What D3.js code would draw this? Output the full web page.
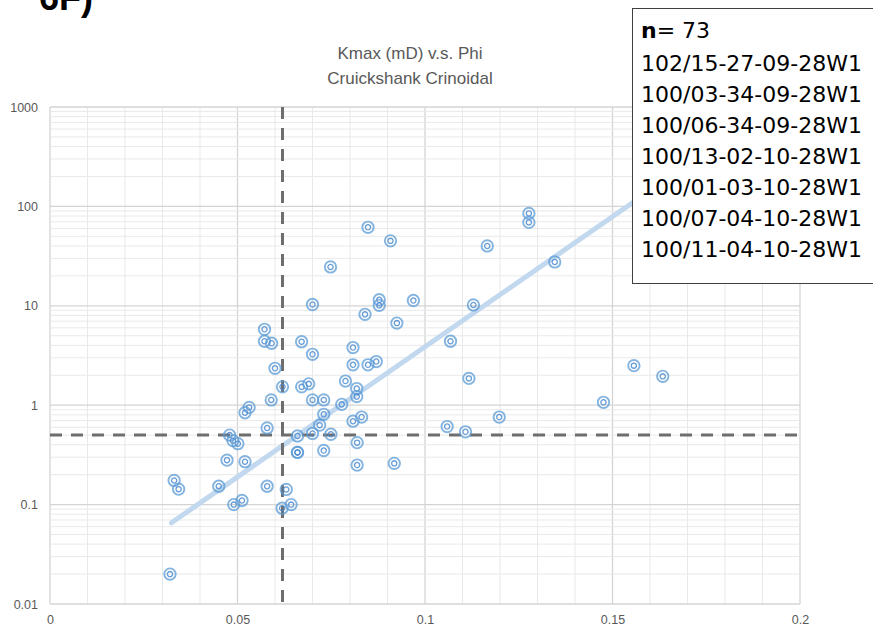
<!DOCTYPE html>
<html>
<head>
<meta charset="utf-8">
<script src="https://cdn.jsdelivr.net/npm/d3@7"></script>
<style>
  body { margin: 0; background: #fff; }
  svg { display: block; }
</style>
</head>
<body>
<svg id="chart" width="873" height="630"></svg>
<script>
// Kmax vs Phi, Cruickshank Crinoidal
var phi = [0.070, 0.0878, 0.0878, 0.0840, 0.0925, 0.0572, 0.0572, 0.0591, 0.0671, 0.0700,
           0.0808, 0.0808, 0.0848, 0.0870, 0.0600, 0.0620, 0.0671, 0.0690, 0.0788, 0.0818,
           0.0818, 0.0700, 0.0730, 0.0590, 0.0778, 0.0531, 0.0520, 0.0730, 0.0831, 0.0808,
           0.0719, 0.0579, 0.0479, 0.0488, 0.0501, 0.0660, 0.0700, 0.0749, 0.0660, 0.0660,
           0.0730, 0.0819, 0.0819, 0.0918, 0.0472, 0.0520, 0.0331, 0.0343, 0.0450, 0.0579,
           0.0630, 0.0490, 0.0512, 0.0619, 0.0643, 0.0320, 0.0848, 0.0908, 0.0748, 0.0969,
           0.1129, 0.1068, 0.1117, 0.1277, 0.1277, 0.1166, 0.1346, 0.1557, 0.1634, 0.1476,
           0.1198, 0.1059, 0.1108];
var kmax = [10.3, 11.5, 10.1, 8.2, 6.7, 5.8, 4.4, 4.2, 4.35, 3.25,
            3.8, 2.55, 2.55, 2.75, 2.35, 1.53, 1.53, 1.64, 1.75, 1.47,
            1.22, 1.13, 1.13, 1.13, 1.02, 0.95, 0.84, 0.81, 0.76, 0.69,
            0.63, 0.59, 0.50, 0.44, 0.41, 0.49, 0.52, 0.51, 0.335, 0.335,
            0.35, 0.42, 0.25, 0.26, 0.28, 0.27, 0.175, 0.143, 0.153, 0.153,
            0.142, 0.10, 0.11, 0.092, 0.10, 0.020, 61.6, 45, 24.6, 11.3,
            10.2, 4.4, 1.86, 85, 69, 40, 27.6, 2.5, 1.95, 1.07,
            0.76, 0.61, 0.54];

// trendline end points
var trendPhi = [0.0324, 0.1634];
var trendK = [0.0656, 177];

// cutoffs
var phiCut = 0.062;
var kCut = 0.5;

var xTicks = [0, 0.05, 0.1, 0.15, 0.2];
var yTicks = [0.01, 0.1, 1, 10, 100, 1000];
var titleLines = ["Kmax (mD) v.s. Phi", "Cruickshank Crinoidal"];
var wells = ["102/15-27-09-28W1", "100/03-34-09-28W1", "100/06-34-09-28W1", "100/13-02-10-28W1",
             "100/01-03-10-28W1", "100/07-04-10-28W1", "100/11-04-10-28W1"];

var svg = d3.select("#chart");

var x = d3.scaleLinear().domain([0, 0.2]).range([50, 800]);
var y = d3.scaleLog().domain([0.01, 1000]).range([604, 107]);

// grid
var grid = svg.append("g");
var xMinor = d3.range(0, 21).map(function(i) { return i / 100; });
grid.selectAll("line.vx")
    .data(xMinor)
    .enter().append("line")
    .attr("x1", function(d) { return x(d); })
    .attr("x2", function(d) { return x(d); })
    .attr("y1", y(1000)).attr("y2", y(0.01))
    .attr("stroke", function(d, i) { return i % 5 == 0 ? "#d4d4d4" : "#e9e9e9"; })
    .attr("stroke-width", function(d, i) { return i % 5 == 0 ? 1.3 : 1; });

grid.selectAll("line.hy")
    .data(y.ticks())
    .enter().append("line")
    .attr("x1", x(0)).attr("x2", x(0.2))
    .attr("y1", function(d) { return y(d); })
    .attr("y2", function(d) { return y(d); })
    .attr("stroke", function(d) { return yTicks.indexOf(+d.toPrecision(3)) >= 0 ? "#d4d4d4" : "#e9e9e9"; })
    .attr("stroke-width", function(d) { return yTicks.indexOf(+d.toPrecision(3)) >= 0 ? 1.3 : 1; });

// axes (labels only)
var yAxis = svg.append("g")
    .attr("transform", "translate(38,0)")
    .call(d3.axisLeft(y).tickValues(yTicks).tickSize(0).tickPadding(0)
        .tickFormat(function(d) { return String(d); }));
var xAxis = svg.append("g")
    .attr("transform", "translate(0,615)")
    .call(d3.axisBottom(x).tickValues(xTicks).tickSize(0).tickPadding(0)
        .tickFormat(function(d) { return String(d); }));
[yAxis, xAxis].forEach(function(a) {
  a.select(".domain").remove();
  a.selectAll("text")
    .attr("fill", "#595959")
    .style("font-family", "Liberation Sans, Arial, sans-serif")
    .style("font-size", "12.5px");
});

// trendline
svg.append("line")
    .attr("x1", x(trendPhi[0])).attr("y1", y(trendK[0]))
    .attr("x2", x(trendPhi[1])).attr("y2", y(trendK[1]))
    .attr("stroke", "#c1d8ee")
    .attr("stroke-width", 5)
    .attr("stroke-linecap", "round");

// cutoff dashed lines
svg.append("line")
    .attr("x1", x(phiCut)).attr("x2", x(phiCut))
    .attr("y1", y(1000)).attr("y2", y(0.01))
    .attr("stroke", "#6e6e6e").attr("stroke-width", 3)
    .attr("stroke-dasharray", "12,9");
svg.append("line")
    .attr("x1", x(0)).attr("x2", x(0.2))
    .attr("y1", y(kCut)).attr("y2", y(kCut))
    .attr("stroke", "#6e6e6e").attr("stroke-width", 3)
    .attr("stroke-dasharray", "12,9");

// points
var pts = svg.append("g").selectAll("g")
    .data(phi.map(function(p, i) { return {phi: p, k: kmax[i]}; }))
    .enter().append("g")
    .attr("transform", function(d) { return "translate(" + x(d.phi) + "," + y(d.k) + ")"; });
pts.append("circle")
    .attr("r", 5.7)
    .attr("fill", "none")
    .attr("stroke", "#5b9bd5")
    .attr("stroke-opacity", 0.75)
    .attr("stroke-width", 1.9);
pts.append("circle")
    .attr("r", 2.6)
    .attr("fill", "none")
    .attr("stroke", "#4a8ad0")
    .attr("stroke-opacity", 0.85)
    .attr("stroke-width", 1.3);

// title
svg.append("g").selectAll("text")
    .data(titleLines)
    .enter().append("text")
    .attr("x", 410)
    .attr("y", function(d, i) { return 59 + i * 25; })
    .attr("text-anchor", "middle")
    .attr("fill", "#595959")
    .style("font-family", "Liberation Sans, Arial, sans-serif")
    .style("font-size", "17px")
    .text(function(d) { return d; });

// clipped panel label at the very top
svg.append("text")
    .attr("x", 39).attr("y", 10)
    .style("font-family", "Liberation Sans, Arial, sans-serif")
    .style("font-weight", "bold")
    .style("font-size", "36px")
    .attr("fill", "#000")
    .text("6F)");

// legend box
svg.append("rect")
    .attr("x", 632.5).attr("y", 8.5)
    .attr("width", 260).attr("height", 275)
    .attr("fill", "#fff")
    .attr("stroke", "#404040")
    .attr("stroke-width", 1);

var nText = svg.append("text")
    .attr("x", 641).attr("y", 38)
    .style("font-family", "DejaVu Sans, sans-serif")
    .style("font-size", "22px")
    .attr("fill", "#000");
nText.append("tspan").style("font-weight", "bold").text("n");
nText.append("tspan").text("= " + phi.length);

svg.append("g").selectAll("text")
    .data(wells)
    .enter().append("text")
    .attr("x", 641)
    .attr("y", function(d, i) { return 71 + i * 31; })
    .style("font-family", "DejaVu Sans, sans-serif")
    .style("font-size", "22px")
    .attr("fill", "#000")
    .text(function(d) { return d; });
</script>
</body>
</html>
